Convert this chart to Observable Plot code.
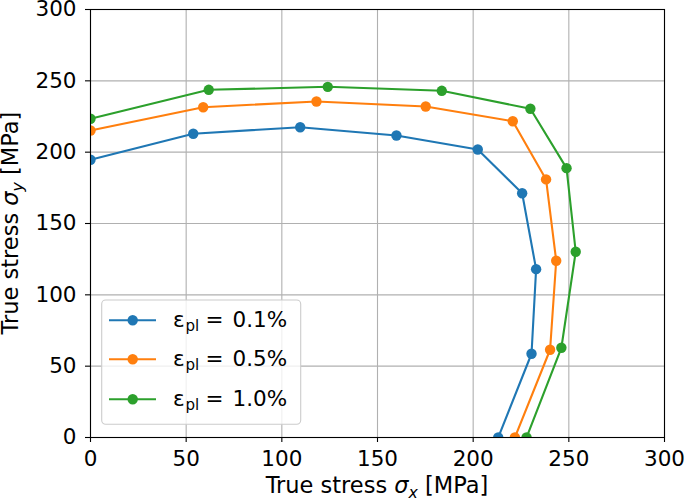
<!DOCTYPE html>
<html>
<head>
<meta charset="utf-8">
<script src="https://cdn.jsdelivr.net/npm/d3@7"></script>
<script src="https://cdn.jsdelivr.net/npm/@observablehq/plot@0.6"></script>
<style>
  html, body { margin: 0; padding: 0; background: #fff; }
  #chart svg { display: block; }
</style>
</head>
<body>
<div id="chart"></div>
<script>
// ---- data ----
const seriesNames = ["0.1%", "0.5%", "1.0%"];
const seriesColors = ["#1f77b4", "#ff7f0e", "#2ca02c"];
const sx_01 = [0, 53.7, 109.6, 159.9, 202.4, 225.6, 232.9, 230.5, 213.1];
const sy_01 = [194.7, 212.9, 217.5, 211.7, 201.9, 171.2, 118.0, 58.7, 0];
const sx_05 = [0, 58.9, 118.1, 175.2, 220.7, 238.1, 243.4, 240.2, 221.8];
const sy_05 = [215.2, 231.5, 235.5, 232.0, 221.7, 180.9, 123.9, 61.5, 0];
const sx_10 = [0, 61.8, 124.0, 183.6, 229.9, 248.8, 253.6, 246.1, 227.9];
const sy_10 = [223.4, 243.7, 245.8, 243.0, 230.4, 188.8, 130.2, 62.9, 0];
const xTicks = [0, 50, 100, 150, 200, 250, 300];
const yTicks = [0, 50, 100, 150, 200, 250, 300];

const table = [];
[[sx_01, sy_01], [sx_05, sy_05], [sx_10, sy_10]].forEach(([xs, ys], i) => {
  xs.forEach((x, j) => table.push({series: seriesNames[i], x, y: ys[j]}));
});

const W = 685, H = 498;
const mL = 90, mR = 21, mT = 9, mB = 61;
const FONT = "DejaVu Sans";
const TICK_FS = 21.5, LABEL_FS = 22.5, LEG_FS = 21.5;

const chart = Plot.plot({
  width: W, height: H,
  marginLeft: mL, marginRight: mR, marginTop: mT, marginBottom: mB,
  style: {fontFamily: FONT, fontSize: TICK_FS + "px", color: "black", background: "white", overflow: "visible"},
  x: {domain: [0, 300], label: null},
  y: {domain: [0, 300], label: null},
  color: {domain: seriesNames, range: seriesColors},
  marks: [
    Plot.ruleX(xTicks, {stroke: "#b0b0b0", strokeWidth: 1.1}),
    Plot.ruleY(yTicks, {stroke: "#b0b0b0", strokeWidth: 1.1}),
    Plot.line(table, {x: "x", y: "y", z: "series", stroke: "series", strokeWidth: 2.1, clip: true}),
    Plot.dot(table, {x: "x", y: "y", fill: "series", r: 5.2, stroke: "none", clip: true}),
    Plot.frame({stroke: "black", strokeWidth: 1.1}),
    Plot.axisX({ticks: xTicks, tickSize: 5, tickPadding: 8.5, label: null, tickFormat: d => String(d), stroke: "black", strokeWidth: 1.1, fontSize: TICK_FS}),
    Plot.axisY({ticks: yTicks, tickSize: 5, tickPadding: 9, label: null, tickFormat: d => String(d), stroke: "black", strokeWidth: 1.1, fontSize: TICK_FS})
  ]
});

document.getElementById("chart").appendChild(chart);

const svg = d3.select(chart);
const cx = mL + (W - mL - mR) / 2;
const cy = mT + (H - mT - mB) / 2;

// x axis label
const xl = svg.append("text")
  .attr("x", cx).attr("y", 493)
  .attr("text-anchor", "middle")
  .attr("font-family", FONT).attr("font-size", LABEL_FS).attr("fill", "black");
xl.append("tspan").text("True stress ");
xl.append("tspan").attr("font-style", "italic").text("σ");
xl.append("tspan").attr("font-style", "italic").attr("font-size", LABEL_FS * 0.7).attr("dy", 4.5).text("x");
xl.append("tspan").attr("dy", -4.5).text(" [MPa]");

// y axis label
const yl = svg.append("text")
  .attr("transform", `translate(18,${cy}) rotate(-90)`)
  .attr("text-anchor", "middle")
  .attr("font-family", FONT).attr("font-size", LABEL_FS).attr("fill", "black");
yl.append("tspan").text("True stress ");
yl.append("tspan").attr("font-style", "italic").text("σ");
yl.append("tspan").attr("font-style", "italic").attr("font-size", LABEL_FS * 0.7).attr("dy", 4.5).text("y");
yl.append("tspan").attr("dy", -4.5).text(" [MPa]");

// legend
const lg = svg.append("g").attr("text-anchor", "start");
lg.append("rect")
  .attr("x", 101.7).attr("y", 300).attr("width", 199).attr("height", 124.3)
  .attr("rx", 4).attr("fill", "white").attr("fill-opacity", 0.8)
  .attr("stroke", "#cccccc").attr("stroke-width", 1.1);
const rowY = [320.3, 359.3, 399.3];
seriesNames.forEach((name, i) => {
  const y = rowY[i];
  lg.append("line").attr("x1", 109).attr("x2", 156).attr("y1", y).attr("y2", y)
    .attr("stroke", seriesColors[i]).attr("stroke-width", 2.1);
  lg.append("circle").attr("cx", 132.7).attr("cy", y).attr("r", 5.2).attr("fill", seriesColors[i]);
  const t = lg.append("text").attr("x", 173).attr("y", y + 7)
    .attr("text-anchor", "start")
    .attr("font-family", FONT).attr("font-size", LEG_FS).attr("fill", "black");
  t.append("tspan").text("ε");
  t.append("tspan").attr("font-size", LEG_FS * 0.7).attr("dy", 4).attr("dx", 0.8).text("pl");
  t.append("tspan").attr("dy", -4).attr("x", 205.5).text("=");
  t.append("tspan").attr("x", 232.5).text(name);
});
</script>
</body>
</html>
